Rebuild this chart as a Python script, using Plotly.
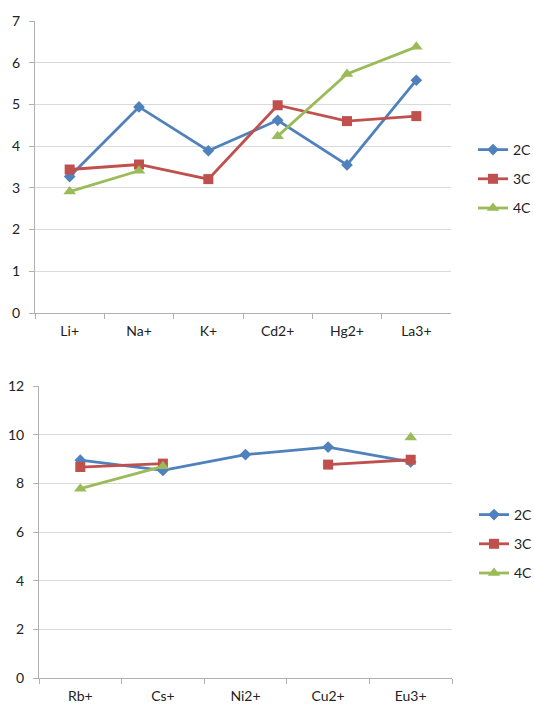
import plotly.graph_objects as go

# Top panel: monovalent / di- / trivalent ions
ions_top = ["Li+", "Na+", "K+", "Cd2+", "Hg2+", "La3+"]
top_2c = [3.27, 4.94, 3.89, 4.62, 3.55, 5.58]
top_3c = [3.44, 3.56, 3.21, 4.98, 4.60, 4.72]
top_4c = [2.91, 3.41, None, 4.24, 5.73, 6.38]

# Bottom panel
ions_bot = ["Rb+", "Cs+", "Ni2+", "Cu2+", "Eu3+"]
bot_2c = [8.95, 8.53, 9.18, 9.49, 8.88]
bot_3c = [8.67, 8.81, None, 8.77, 8.97]
bot_4c = [7.78, 8.70, None, None, 9.88]

series_names = ["2C", "3C", "4C"]
colors = ["#4F81BD", "#C0504D", "#9BBB59"]
symbols = ["diamond", "square", "triangle-up"]
msizes = [9, 10, 11]

W, H = 534, 704
FONT = dict(family="Lato, 'Open Sans', sans-serif", size=14, color="#222222")

fig = go.Figure()

panels = [
    (ions_top, [top_2c, top_3c, top_4c], "x", "y", "legend"),
    (ions_bot, [bot_2c, bot_3c, bot_4c], "x2", "y2", "legend2"),
]
for cats, vals, xa, ya, lg in panels:
    for name, v, c, s, ms in zip(series_names, vals, colors, symbols, msizes):
        fig.add_trace(go.Scatter(
            x=cats, y=v, name=name, mode="lines+markers",
            line=dict(color=c, width=2.8),
            marker=dict(symbol=s, size=ms, color=c),
            connectgaps=False, xaxis=xa, yaxis=ya, legend=lg,
            legendgroup=lg + name,
        ))

grid = "#D9D9D9"
axis_line = "#B0B0B0"


def xax(domain, anchor, n):
    return dict(domain=domain, anchor=anchor, type="category",
                range=[-0.5, n - 0.5], showline=True, linecolor=axis_line,
                linewidth=1, ticks="outside", tickson="boundaries",
                ticklen=5, tickcolor=axis_line, showgrid=False,
                ticklabelstandoff=5, automargin=False,
                tickfont=FONT, fixedrange=True)


def yax(domain, anchor, rng, dtick):
    return dict(domain=domain, anchor=anchor, range=rng, dtick=dtick,
                showline=True, linecolor=axis_line, linewidth=1,
                ticks="outside", ticklen=5, tickcolor=axis_line,
                showgrid=True, gridcolor=grid, gridwidth=1,
                ticklabelstandoff=6, automargin=False,
                zeroline=False, tickfont=FONT, fixedrange=True)


fig.update_layout(
    width=W, height=H,
    margin=dict(l=0, r=0, t=0, b=0, autoexpand=False),
    paper_bgcolor="white", plot_bgcolor="white",
    font=FONT,
    xaxis=xax([35 / W, 451 / W], "y", len(ions_top)),
    yaxis=yax([(H - 313) / H, (H - 21) / H], "x", [0, 7], 1),
    xaxis2=xax([39 / W, 452 / W], "y2", len(ions_bot)),
    yaxis2=yax([(H - 678) / H, (H - 386) / H], "x2", [0, 12], 2),
    legend=dict(x=473 / W, y=1 - 179 / H, xanchor="left", yanchor="middle",
                bgcolor="rgba(0,0,0,0)", tracegroupgap=8, font=FONT),
    legend2=dict(x=474 / W, y=1 - 544 / H, xanchor="left", yanchor="middle",
                 bgcolor="rgba(0,0,0,0)", tracegroupgap=8, font=FONT),
    showlegend=True,
)

fig.write_html("out.html")
